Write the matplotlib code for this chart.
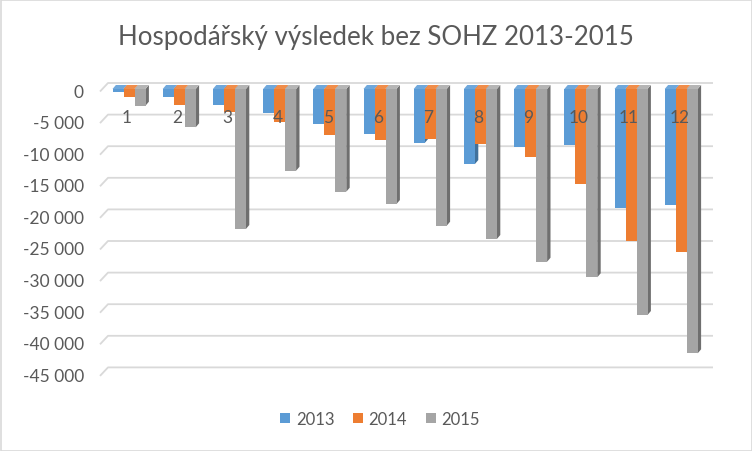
import matplotlib
matplotlib.use("Agg")
import matplotlib.pyplot as plt
from matplotlib.patches import Polygon, Rectangle, Patch
import numpy as np

# ---- data ----
categories = ["1", "2", "3", "4", "5", "6", "7", "8", "9", "10", "11", "12"]
series_names = ["2013", "2014", "2015"]
v2013 = [-500, -1220, -2480, -3750, -5540, -7070, -8540, -11870, -9130, -8810, -18880, -18350]
v2014 = [-1310, -2480, -3690, -5170, -7230, -8070, -7910, -8700, -10810, -15030, -24000, -25840]
v2015 = [-2640, -6060, -22150, -12930, -16250, -18200, -21630, -23730, -27330, -29790, -35760, -41820]
yticks = [0, -5000, -10000, -15000, -20000, -25000, -30000, -35000, -40000, -45000]
title = "Hospodářský výsledek bez SOHZ 2013-2015"

front_cols = ["#5B9BD5", "#ED7D31", "#A5A5A5"]
side_cols = ["#41719C", "#AE5A21", "#6F6F6F"]
top_cols = ["#6FA8DC", "#F08D4A", "#B5B5B5"]
txt_col = "#595959"
grid_col = "#D9D9D9"

W, H = 752, 452
fig = plt.figure(figsize=(W / 100, H / 100), dpi=100)
fig.patch.set_facecolor("white")
FONT = ["Lato", "DejaVu Sans"]

# pixel layout of front plane of the bars
zero_px = 90.0          # pixel row of value 0 (bar front face)
px_per_unit = 31.6 / 5000.0
ymin = -45000
bottom_px = zero_px + (-ymin) * px_per_unit
cat_step = 50.2
cat1_px = 129.0
left_px = cat1_px - cat_step / 2
right_px = cat1_px + (len(categories) - 0.5) * cat_step

# overlay axes in pixel coordinates for gridlines / labels
ov = fig.add_axes([0, 0, 1, 1], zorder=0)
ov.set_xlim(0, W)
ov.set_ylim(H, 0)
ov.axis("off")

def ypx(v, off=0.0):
    return zero_px + (-v) * px_per_unit + off

# chart border
ov.add_patch(Rectangle((0.5, 0.5), W - 1, H - 1, fill=False, edgecolor="#D9D9D9", lw=1.2))

# gridlines: front-left slanted stub + back wall line
for t in yticks:
    yf = ypx(t, 2.5)
    yb = ypx(t, -6.0)
    ov.plot([100, 108, 713], [yf, yb, yb], color=grid_col, lw=1.3, solid_capstyle="butt")
    lab = "0" if t == 0 else f"{t:,}".replace(",", " ")
    ov.text(84, yf, lab, ha="right", va="center", fontsize=12.5, color=txt_col, family=FONT)

# main axes for bars
ax = fig.add_axes([left_px / W, 1 - bottom_px / H, (right_px - left_px) / W, (bottom_px - zero_px) / H], zorder=1)
ax.set_xlim(0.5, len(categories) + 0.5)
ax.set_ylim(ymin, 0)
ax.patch.set_alpha(0)
ax.axis("off")

x = np.arange(1, len(categories) + 1)
bw = 11.0 / cat_step
dx = 3.4 / cat_step                 # depth offset in x (data)
dy = 4.0 / px_per_unit              # depth offset in y (data)
vals = [v2013, v2014, v2015]
for s, v in enumerate(vals):
    xs = x + (s - 1) * bw
    for xi, vi in zip(xs, v):
        x0, x1 = xi - bw / 2, xi + bw / 2
        side = Polygon([(x1, 0), (x1 + dx, dy), (x1 + dx, vi + dy), (x1, vi)], closed=True,
                       facecolor=side_cols[s], edgecolor="none", clip_on=False, zorder=2 + s)
        top = Polygon([(x0, 0), (x1, 0), (x1 + dx, dy), (x0 + dx, dy)], closed=True,
                      facecolor=top_cols[s], edgecolor="none", clip_on=False, zorder=2 + s)
        ax.add_patch(side)
        ax.add_patch(top)
    ax.bar(xs, v, width=bw, color=front_cols[s], zorder=2.5 + s, clip_on=False, linewidth=0)

# category labels
for xi, c in zip(x, categories):
    ax.text(xi - 0.04, -4500, c, ha="center", va="center", fontsize=12.5, color=txt_col,
            family=FONT, zorder=10)

# title
fig.text(376 / W, 1 - 38 / H, title, ha="center", va="center", fontsize=18.6, color=txt_col,
         family=FONT)

# legend
handles = [Patch(facecolor=c, edgecolor="none") for c in front_cols]
fig.legend(handles, series_names, loc="center", bbox_to_anchor=(380 / W, 1 - 420 / H), ncol=3,
           frameon=False, handlelength=0.6, handleheight=0.6, handletextpad=0.35,
           columnspacing=1.1, prop={"family": FONT, "size": 12}, labelcolor=txt_col)

fig.savefig("out.png", dpi=100, facecolor="white")
